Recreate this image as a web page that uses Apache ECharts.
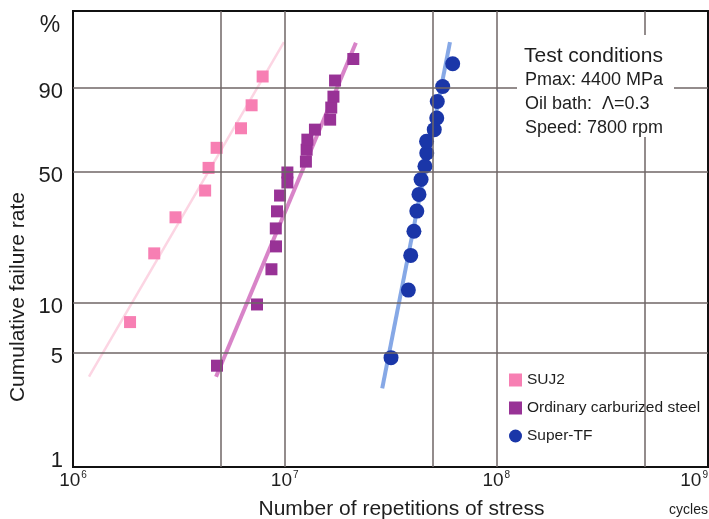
<!DOCTYPE html>
<html>
<head>
<meta charset="utf-8">
<script src="https://cdn.jsdelivr.net/npm/echarts@6/dist/echarts.min.js"></script>
<style>
html,body{margin:0;padding:0;background:#fff;}
#chart{width:709px;height:519px;}
</style>
</head>
<body>
<div id="chart"></div>
<script>
// ---- data ----
const xMinCycles = 1e6;
const xMaxCycles = 1e9;
const yMinPct = 1;
const yMaxPct = 99.9;
const yTickPct = [1, 5, 10, 50, 90];
const yGridPct = [5, 10, 50, 90];
const xGridCycles = [5e6, 1e7, 5e7, 1e8, 5e8];

const seriesNames = ['SUJ2', 'Ordinary carburized steel', 'Super-TF'];

const suj2Cycles = [1.86e6, 2.42e6, 3.05e6, 4.21e6, 4.37e6, 4.77e6, 6.22e6, 6.98e6, 7.87e6];
const suj2Pct    = [7.7, 19.3, 30.2, 41.0, 51.8, 62.2, 72.4, 83.3, 93.3];

const carbCycles = [4.79e6, 7.40e6, 8.66e6, 9.10e6, 9.08e6, 9.20e6, 9.51e6, 1.03e7, 1.03e7,
                    1.26e7, 1.27e7, 1.28e7, 1.39e7, 1.64e7, 1.66e7, 1.70e7, 1.73e7, 2.11e7];
const carbPct    = [4.2, 9.8, 15.7, 21.1, 26.4, 32.4, 38.8, 44.7, 49.5,
                    55.0, 61.2, 66.5, 71.7, 76.7, 82.3, 86.8, 92.2, 96.9];

const tfCycles = [3.18e7, 3.84e7, 3.94e7, 4.08e7, 4.21e7, 4.31e7, 4.41e7, 4.60e7,
                  4.69e7, 4.68e7, 5.09e7, 5.23e7, 5.26e7, 5.58e7, 6.22e7];
const tfPct    = [4.7, 11.9, 18.8, 25.5, 32.5, 39.3, 46.1, 52.6,
                  59.5, 65.6, 71.7, 77.5, 84.9, 90.4, 96.1];

// fitted Weibull lines (end points)
const suj2FitCycles = [1.19e6, 9.92e6];
const suj2FitPct    = [3.6, 98.8];
const carbFitCycles = [4.74e6, 2.17e7];
const carbFitPct    = [3.6, 98.75];
const tfFitCycles   = [2.89e7, 6.04e7];
const tfFitPct      = [3.05, 98.8];

const conditionLines = ['Pmax: 4400 MPa', 'Oil bath:  \u039B=0.3', 'Speed: 7800 rpm'];

// ---- helpers ----
const weib = p => Math.log(-Math.log(1 - p / 100));
const invWeib = w => 100 * (1 - Math.exp(-Math.exp(w)));
const pairs = (xs, ps) => xs.map((x, i) => [x, weib(ps[i])]);

const colSUJ2 = '#f77fb3', colCarb = '#983296', colTF = '#1a36a8';
const FONT = 'Liberation Sans, Arial, Helvetica, sans-serif';
const TXT = '#1e1e1e';
const gridCol = '#6f6666';

const chart = echarts.init(document.getElementById('chart'));

const option = {
  animation: false,
  backgroundColor: '#fff',
  textStyle: { fontFamily: FONT },
  grid: { left: 73, right: 1, top: 11, bottom: 52, containLabel: false, outerBoundsMode: 'none',
          show: true, borderColor: '#111', borderWidth: 2, backgroundColor: 'transparent' },
  xAxis: {
    type: 'log', logBase: 10, min: xMinCycles, max: xMaxCycles,
    axisLine: { show: true, onZero: false, lineStyle: { color: '#111', width: 2 } },
    axisTick: { show: false },
    splitLine: { show: false },
    axisLabel: {
      margin: 3, color: TXT, alignMaxLabel: 'right',
      formatter: v => '{b|10}{s|' + Math.round(Math.log10(v)) + '}',
      rich: {
        b: { fontSize: 19, fontFamily: FONT, color: TXT },
        s: { fontSize: 10, fontFamily: FONT, color: TXT, padding: [0, 0, 12, 1] }
      }
    },
    name: 'Number of repetitions of stress',
    nameLocation: 'middle', nameGap: 32,
    nameTextStyle: { fontSize: 21, color: TXT, fontFamily: FONT, padding: [0, 0, 0, 22] }
  },
  yAxis: {
    type: 'value', min: weib(yMinPct), max: weib(yMaxPct),
    axisLine: { show: true, onZero: false, lineStyle: { color: '#111', width: 2 } },
    axisTick: { show: false },
    splitLine: { show: false },
    axisLabel: {
      customValues: yTickPct.map(weib),
      formatter: v => {
        const p = Math.round(invWeib(v));
        return p === yMinPct ? '{up|' + p + '}' : '{dn|' + p + '}';
      },
      margin: 10,
      rich: {
        dn: { fontSize: 22, color: TXT, fontFamily: FONT, padding: [8, 0, 0, 0] },
        up: { fontSize: 22, color: TXT, fontFamily: FONT, padding: [0, 0, 12, 0] }
      }
    }
  },
  legend: {
    orient: 'vertical', left: 509, top: 372, padding: 0,
    itemWidth: 13, itemHeight: 13, itemGap: 12,
    data: [
      { name: seriesNames[0], icon: 'rect' },
      { name: seriesNames[1], icon: 'rect' },
      { name: seriesNames[2], icon: 'circle' }
    ],
    textStyle: { fontSize: 15.5, lineHeight: 16, color: TXT, fontFamily: FONT, backgroundColor: '#fff' }
  },
  graphic: [
    { type: 'rect', z: 100, shape: { x: 517, y: 35, width: 157, height: 102 }, style: { fill: '#fff' } },
    { type: 'text', z: 101, x: 524, y: 56, style: { text: 'Test conditions', fontSize: 21, fontFamily: FONT, fill: TXT, verticalAlign: 'middle' } },
    { type: 'text', z: 101, x: 525, y: 80, style: { text: conditionLines[0], fontSize: 18, fontFamily: FONT, fill: TXT, verticalAlign: 'middle' } },
    { type: 'text', z: 101, x: 525, y: 104, style: { text: conditionLines[1], fontSize: 18, fontFamily: FONT, fill: TXT, verticalAlign: 'middle' } },
    { type: 'text', z: 101, x: 525, y: 128, style: { text: conditionLines[2], fontSize: 18, fontFamily: FONT, fill: TXT, verticalAlign: 'middle' } },
    { type: 'text', z: 101, x: 50, y: 26, style: { text: '%', fontSize: 23, fontFamily: FONT, fill: TXT, align: 'center', verticalAlign: 'middle' } },
    { type: 'text', z: 101, x: 18, y: 297, rotation: Math.PI / 2, style: { text: 'Cumulative failure rate', fontSize: 21, fontFamily: FONT, fill: TXT, align: 'center', verticalAlign: 'middle' } },
    { type: 'text', z: 101, x: 708, y: 510, style: { text: 'cycles', fontSize: 14, fontFamily: FONT, fill: TXT, align: 'right', verticalAlign: 'middle' } }
  ],
  series: [
    {
      name: 'grid', type: 'line', data: [], silent: true, z: 1,
      markLine: {
        silent: true, symbol: 'none', animation: false,
        label: { show: false },
        lineStyle: { color: gridCol, width: 1.5, type: 'solid' },
        data: yGridPct.map(p => ({ yAxis: weib(p) })).concat(xGridCycles.map(c => ({ xAxis: c })))
      }
    },
    { name: 'SUJ2 fit', type: 'line', data: pairs(suj2FitCycles, suj2FitPct), showSymbol: false, silent: true, z: 2,
      lineStyle: { color: '#fcd5e3', width: 2.5 } },
    { name: 'carb fit', type: 'line', data: pairs(carbFitCycles, carbFitPct), showSymbol: false, silent: true, z: 2,
      lineStyle: { color: '#d884c8', width: 4 } },
    { name: 'tf fit', type: 'line', data: pairs(tfFitCycles, tfFitPct), showSymbol: false, silent: true, z: 2,
      lineStyle: { color: '#86a8e6', width: 4 } },
    { name: seriesNames[0], type: 'scatter', symbol: 'rect', symbolSize: 12, z: 3,
      itemStyle: { color: colSUJ2, opacity: 1 }, data: pairs(suj2Cycles, suj2Pct) },
    { name: seriesNames[1], type: 'scatter', symbol: 'rect', symbolSize: 12, z: 3,
      itemStyle: { color: colCarb, opacity: 1 }, data: pairs(carbCycles, carbPct) },
    { name: seriesNames[2], type: 'scatter', symbol: 'circle', symbolSize: 15, z: 3,
      itemStyle: { color: colTF, opacity: 1 }, data: pairs(tfCycles, tfPct) }
  ]
};
chart.setOption(option);
</script>
</body>
</html>
